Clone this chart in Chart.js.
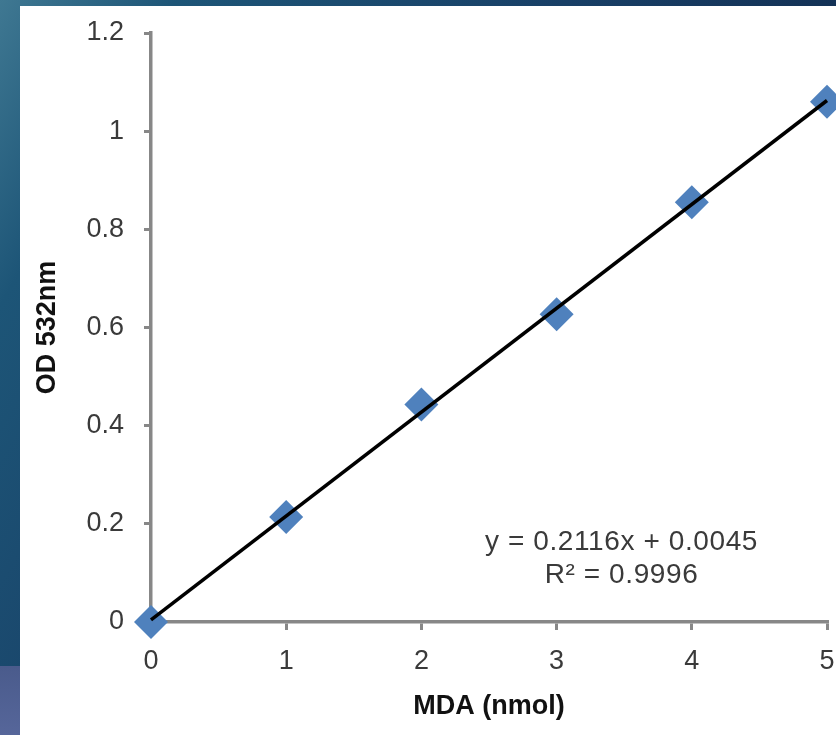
<!DOCTYPE html>
<html>
<head>
<meta charset="utf-8">
<script src="https://cdn.jsdelivr.net/npm/chart.js@4"></script>
<style>
  html, body { margin: 0; padding: 0; }
  body {
    width: 836px; height: 735px; overflow: hidden; position: relative;
    background: linear-gradient(120deg, #3f7892 0%, #1d5577 14%, #183f66 45%, #122d50 75%, #0e2442 100%);
  }
  #bl {
    position: absolute; left: 0; top: 666px; width: 20px; height: 69px;
    background: linear-gradient(180deg, #4a5b8c 0%, #56669a 100%);
  }
  #panel {
    position: absolute; left: 20px; top: 6px; width: 816px; height: 729px; background: #ffffff;
  }
  #wrap { position: absolute; left: 0; top: 0; width: 836px; height: 735px; }
</style>
</head>
<body>
<div id="bl"></div>
<div id="panel"></div>
<div id="wrap"><canvas id="c" width="836" height="735"></canvas></div>
<script>
// ---- data ----
const xValues = [0, 1, 2, 3, 4, 5];
const odValues = [0, 0.214, 0.443, 0.627, 0.855, 1.06];
const xTickLabels = ['0', '1', '2', '3', '4', '5'];
const yTickLabels = ['0', '0.2', '0.4', '0.6', '0.8', '1', '1.2'];
const trendSlope = 0.2116;
const trendIntercept = 0.0045;
const equationLines = ['y = 0.2116x + 0.0045', 'R\u00B2 = 0.9996'];
const xTitle = 'MDA (nmol)';
const yTitle = 'OD 532nm';

const FONT = '"Liberation Sans", Arial, sans-serif';
const AXIS = '#878787';
const TEXT = '#3a3a3a';

const points = xValues.map((x, i) => ({ x: x, y: odValues[i] }));
const trend = [xValues[0], xValues[xValues.length - 1]].map(x => ({ x: x, y: trendSlope * x + trendIntercept }));

const equationPlugin = {
  id: 'equation',
  afterDatasetsDraw(chart) {
    const { ctx, scales } = chart;
    const cx = scales.x.getPixelForValue(3.48);
    const ys = [scales.y.getPixelForValue(0.163), scales.y.getPixelForValue(0.096)];
    ctx.save();
    ctx.font = '28px ' + FONT;
    ctx.fillStyle = TEXT;
    ctx.textAlign = 'center';
    ctx.textBaseline = 'middle';
    try { ctx.letterSpacing = '0.6px'; } catch (e) {}
    equationLines.forEach((t, i) => ctx.fillText(t, cx, ys[i]));
    ctx.restore();
  }
};

new Chart(document.getElementById('c'), {
  type: 'scatter',
  data: {
    datasets: [
      {
        type: 'line',
        label: 'Linear',
        data: trend,
        borderColor: '#000000',
        borderWidth: 3.5,
        pointRadius: 0,
        fill: false,
        clip: false
      },
      {
        label: 'OD',
        data: points,
        pointStyle: 'rectRot',
        pointRadius: 17,
        pointHoverRadius: 17,
        backgroundColor: '#4f81bd',
        borderColor: '#4f81bd',
        borderWidth: 0,
        clip: false
      }
    ]
  },
  options: {
    responsive: false,
    animation: false,
    events: [],
    layout: { autoPadding: false, padding: { left: 0, right: 9, top: 33, bottom: 0 } },
    plugins: { legend: { display: false }, tooltip: { enabled: false } },
    scales: {
      x: {
        type: 'linear',
        min: 0, max: 5,
        afterFit(s) { s.height = 113; s.paddingRight = 0; s.paddingLeft = 0; },
        afterBuildTicks(s) { s.ticks = xValues.map(v => ({ value: v })); },
        ticks: {
          callback: (v, i) => xTickLabels[i],
          font: { family: FONT, size: 27 },
          color: TEXT,
          padding: 15,
          maxRotation: 0
        },
        grid: { drawOnChartArea: false, drawTicks: true, tickLength: 8, color: AXIS, lineWidth: 3 },
        border: { display: true, color: AXIS, width: 3.5 },
        title: {
          display: true, text: xTitle, color: '#111111',
          font: { family: FONT, size: 27, weight: 'bold' },
          padding: { top: 0, bottom: 12 }
        }
      },
      y: {
        type: 'linear',
        min: 0, max: 1.2,
        afterFit(s) { s.width = 151; s.paddingTop = 0; s.paddingBottom = 0; },
        afterBuildTicks(s) { s.ticks = yTickLabels.map(t => ({ value: parseFloat(t) })); },
        ticks: {
          callback: (v, i) => yTickLabels[i],
          font: { family: FONT, size: 27 },
          color: TEXT,
          padding: 20
        },
        grid: { drawOnChartArea: false, drawTicks: true, tickLength: 7, color: AXIS, lineWidth: 3 },
        border: { display: true, color: AXIS, width: 3.5 },
        title: {
          display: true, text: yTitle, color: '#111111',
          font: { family: FONT, size: 27, weight: 'bold' },
          padding: { top: 31, bottom: 0 }
        }
      }
    }
  },
  plugins: [equationPlugin]
});
</script>
</body>
</html>
